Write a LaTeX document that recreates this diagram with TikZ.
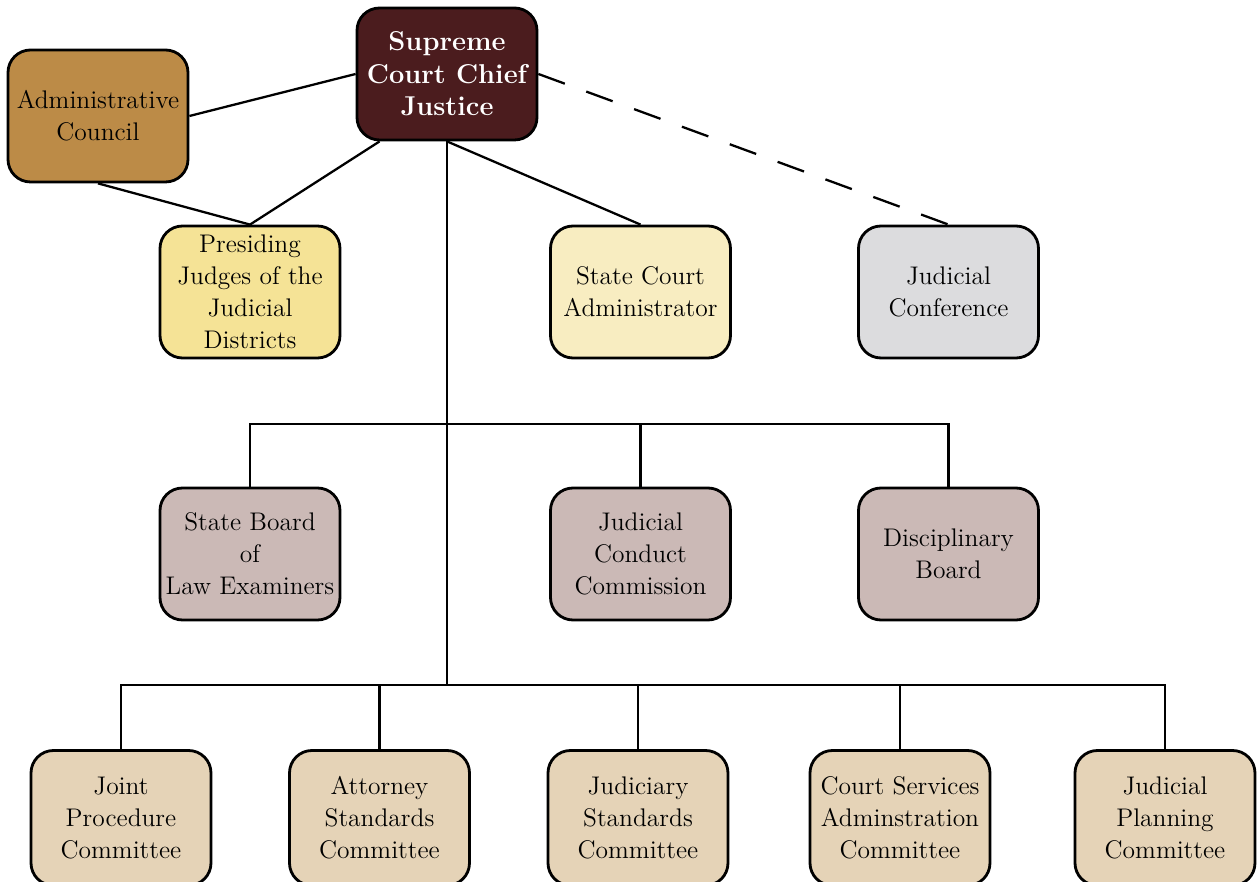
\documentclass[tikz,border=0pt]{standalone}
\usepackage{xcolor}
\usetikzlibrary{calc}

\definecolor{chiefred}{HTML}{4B1C1E}
\definecolor{councilbrown}{HTML}{BC8B47}
\definecolor{judgeyellow}{HTML}{F5E396}
\definecolor{adminyellow}{HTML}{F8EDC1}
\definecolor{confgrey}{HTML}{DCDCDE}
\definecolor{boardrose}{HTML}{CBB9B6}
\definecolor{committeetan}{HTML}{E5D3B7}

\begin{document}
\begin{tikzpicture}[x=1cm, y=1cm,
    orgbox/.style={draw, line width=1.6pt, rounded corners=0.45cm, align=center,
      minimum width=3.6cm, minimum height=2.64cm, inner sep=0pt,
      font=\fontsize{14.5}{18.2}\selectfont},
    link/.style={line width=1.3pt}]

      \useasboundingbox (0,0) rectangle (25.16,17.64);

      \node[orgbox, fill=chiefred, text=white, font=\fontsize{15.5}{18.4}\selectfont\bfseries] (chief) at (8.94,16.16) {Supreme\\Court Chief\\Justice};
      \node[orgbox, fill=councilbrown] (council) at (1.96,15.32) {Administrative\\Council};
      \node[orgbox, fill=judgeyellow] (judges) at (5.0,11.8) {Presiding\\Judges of the\\Judicial\\Districts};
      \node[orgbox, fill=adminyellow] (sca) at (12.81,11.8) {State Court\\Administrator};
      \node[orgbox, fill=confgrey] (conf) at (18.97,11.8) {Judicial\\Conference};

      \node[orgbox, fill=boardrose] (examiners) at (5.0,6.56) {State Board\\of\\Law Examiners};
      \node[orgbox, fill=boardrose] (conduct) at (12.81,6.56) {Judicial\\Conduct\\Commission};
      \node[orgbox, fill=boardrose] (discipline) at (18.97,6.56) {Disciplinary\\Board};

      \foreach \name/\x/\txt in {jpc/2.42/{Joint\\Procedure\\Committee},
          asc/7.59/{Attorney\\Standards\\Committee},
          jsc/12.76/{Judiciary\\Standards\\Committee},
          csac/18.0/{Court Services\\Adminstration\\Committee},
          jplc/23.3/{Judicial\\Planning\\Committee}}
      \node[orgbox, fill=committeetan, minimum height=2.7cm] (\name) at (\x,1.28) {\txt};

      \coordinate (boardbus) at (8.94,9.16);
      \coordinate (committeebus) at (8.94,3.94);

      \draw[link] (chief.west) -- (council.east);
      \draw[link] (chief.-135) -- (judges.north);
      \draw[link] (council.south) -- (judges.north);
      \draw[link] (chief.south) -- (sca.north);
      \draw[link, dash pattern=on 16pt off 13pt] (chief.east) -- (conf.north);

      \draw[link] (chief.south) -- (committeebus);
      \draw[link] (examiners.north) |- (discipline.north |- boardbus) -- (discipline.north);
      \draw[link] (conduct.north) -- (conduct.north |- boardbus);
      \draw[link] (jpc.north) |- (jplc.north |- committeebus) -- (jplc.north);
      \foreach \name in {asc, jsc, csac}
      \draw[link] (\name.north) -- (\name.north |- committeebus);
    \end{tikzpicture}
\end{document}
